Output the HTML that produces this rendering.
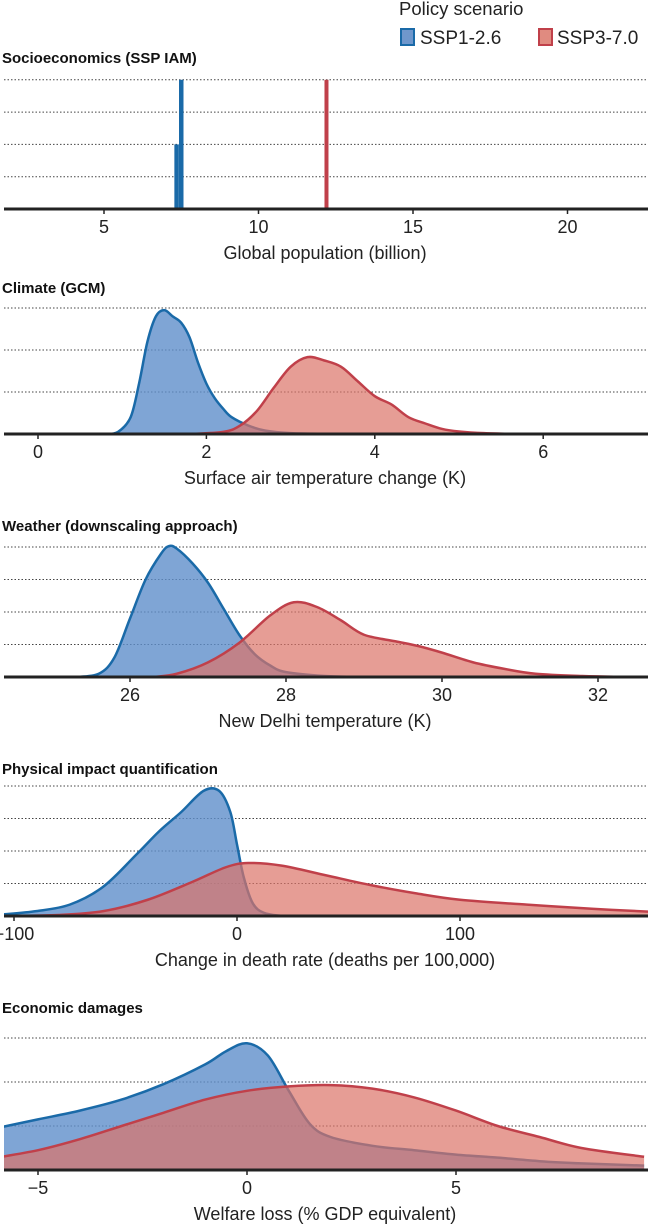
<!DOCTYPE html>
<html><head><meta charset="utf-8">
<style>
body{margin:0;background:#fff;}
svg{display:block;font-family:"Liberation Sans",Arial,sans-serif;}
</style></head>
<body>
<svg id="c" width="651" height="1231" viewBox="0 0 651 1231">
<defs><clipPath id="plotclip"><rect x="4" y="0" width="644" height="1231"/></clipPath></defs>
<g>
<text x="399" y="15" font-size="18.5" fill="#222">Policy scenario</text>
<rect x="401" y="29" width="13" height="16" fill="#6f97cc" stroke="#1a6aa8" stroke-width="2"/>
<text x="420" y="44" font-size="19" fill="#222">SSP1-2.6</text>
<rect x="539" y="29" width="13" height="16" fill="#e08b80" stroke="#c0404a" stroke-width="2"/>
<text x="557" y="44" font-size="19" fill="#222">SSP3-7.0</text>
</g>
</svg>
<script>
// Panel 1 data (population bars, in gridline units)
const popBlueX=[7.35,7.5];
const popBlueH=[2,4];
const popRedX=[12.2];
const popRedH=[4];
const popTicks=[5,10,15,20];
// Panel 2
const climTicks=[0,2,4,6];
const climBlueX=[0.8,0.95,1.1,1.2,1.3,1.4,1.5,1.6,1.7,1.8,1.9,2.0,2.1,2.2,2.3,2.5,2.7,3.0,3.5];
const climBlueY=[0,0.05,0.4,1.2,2.2,2.8,2.95,2.8,2.65,2.3,1.7,1.2,0.85,0.6,0.4,0.2,0.08,0.02,0];
const climRedX=[1.8,2.2,2.4,2.6,2.8,3.0,3.2,3.4,3.6,3.8,4.0,4.2,4.4,4.6,4.8,5.0,5.3,5.7];
const climRedY=[0,0.05,0.2,0.55,1.1,1.6,1.83,1.75,1.6,1.25,0.9,0.7,0.4,0.25,0.12,0.06,0.02,0];
// Panel 3
const wxTicks=[26,28,30,32];
const wxBlueX=[25.3,25.6,25.8,26.0,26.2,26.4,26.5,26.6,26.8,27.0,27.2,27.4,27.6,27.8,28.0,28.5,29];
const wxBlueY=[0,0.1,0.6,1.8,3.0,3.8,4.03,3.95,3.5,2.9,2.1,1.3,0.7,0.35,0.15,0.03,0];
const wxRedX=[26.3,26.6,27.0,27.4,27.8,28.1,28.4,28.7,29.0,29.4,29.7,30.0,30.4,30.8,31.2,31.8,32.4];
const wxRedY=[0,0.1,0.45,1.05,1.9,2.3,2.15,1.75,1.3,1.1,0.95,0.75,0.45,0.25,0.1,0.03,0];
// Panel 4
const impTicks=[-100,0,100];
const impTickLabels=["\u2212100","0","100"];
const impBlueX=[-105,-90,-75,-60,-45,-35,-25,-15,-8,-3,0,3,7,12,20];
const impBlueY=[0.05,0.15,0.35,0.9,1.9,2.6,3.2,3.85,3.85,3.2,2.2,1.2,0.4,0.1,0];
const impRedX=[-105,-80,-60,-40,-20,-5,5,20,40,60,80,100,130,160,186];
const impRedY=[0,0.03,0.15,0.5,1.05,1.5,1.63,1.55,1.25,0.95,0.7,0.5,0.35,0.22,0.13];
// Panel 5
const ecoTicks=[-5,0,5];
const ecoTickLabels=["\u22125","0","5"];
const ecoBlueX=[-6,-5,-4,-3,-2,-1,-0.5,0,0.5,1,1.5,2,3,4,5,6,7,8,9.5];
const ecoBlueY=[0.95,1.15,1.35,1.6,1.95,2.4,2.7,2.88,2.6,1.8,1.05,0.75,0.55,0.45,0.35,0.28,0.2,0.15,0.1];
const ecoRedX=[-6,-5,-4,-3,-2,-1,0,1,2,3,4,5,6,7,8,9.5];
const ecoRedY=[0.28,0.45,0.7,1.0,1.3,1.6,1.8,1.9,1.93,1.85,1.65,1.35,1.0,0.75,0.5,0.3];

const svg=document.getElementById('c');
const NS='http://www.w3.org/2000/svg';
function mk(tag,attrs,parent){const e=document.createElementNS(NS,tag);for(const k in attrs)e.setAttribute(k,attrs[k]);(parent||svg).appendChild(e);return e;}
const L=4,R=648;
function smooth(pts){let d='M'+pts[0][0]+','+pts[0][1];for(let i=0;i<pts.length-1;i++){const p0=pts[Math.max(0,i-1)],p1=pts[i],p2=pts[i+1],p3=pts[Math.min(pts.length-1,i+2)];const c1x=p1[0]+(p2[0]-p0[0])/6,c1y=p1[1]+(p2[1]-p0[1])/6,c2x=p2[0]-(p3[0]-p1[0])/6,c2y=p2[1]-(p3[1]-p1[1])/6;d+=' C'+c1x+','+c1y+' '+c2x+','+c2y+' '+p2[0]+','+p2[1];}return d;}
function panel(cfg){
  const g=mk('g',{});
  
  
  const sx=v=>cfg.x0px+(v-cfg.v0)*cfg.ppu;
  const sy=u=>cfg.base-u*cfg.gsp;
  const t=mk('text',{x:2,y:cfg.titleY,'font-size':15,'font-weight':'bold',fill:'#111'},g);
  t.textContent=cfg.title;
  
  
  for(let i=1;i<=cfg.nGrid;i++){
    const l=mk('line',{x1:L,x2:R,y1:sy(i),y2:sy(i),stroke:'#444','stroke-width':1,'stroke-dasharray':'1.5,2'},g);
    
    
  }
  const pg=mk('g',{'clip-path':'url(#plotclip)'},g);
  
  
  if(cfg.bars){
    cfg.bars.forEach(b=>{
      b.xs.forEach((x,i)=>{
        const r=mk('rect',{x:sx(x)-b.w/2,y:sy(b.hs[i]),width:b.w,height:sy(0)-sy(b.hs[i]),fill:b.color},pg);
        
        
      });
    });
  }
  if(cfg.series){
    cfg.series.forEach(s=>{
      const pts=s.x.map((x,i)=>[sx(x),sy(s.y[i])]);
      const line=smooth(pts);
      const area=line+' L'+pts[pts.length-1][0]+','+sy(0)+' L'+pts[0][0]+','+sy(0)+' Z';
      const a=mk('path',{d:area,fill:s.fill,'fill-opacity':s.op},pg);
      
      
      const p=mk('path',{d:line,fill:'none',stroke:s.stroke,'stroke-width':2.5},pg);
      
      
    });
  }
  const ax=mk('line',{x1:L,x2:R,y1:cfg.base,y2:cfg.base,stroke:'#222','stroke-width':3},g);
  
  
  cfg.ticks.forEach((v,i)=>{
    const tk=mk('line',{x1:sx(v),x2:sx(v),y1:cfg.base,y2:cfg.base+5,stroke:'#222','stroke-width':1.5},g);
    
    
    const tl=mk('text',{x:sx(v),y:cfg.base+24,'font-size':18,fill:'#222','text-anchor':'middle'},g);
    tl.textContent=cfg.tickLabels?cfg.tickLabels[i]:String(v);
    
    
  });
  const at=mk('text',{x:cfg.axisTitleX,y:cfg.base+50,'font-size':18,fill:'#222','text-anchor':'middle'},g);
  at.textContent=cfg.axisTitle;
  
  
}
const BF='#5f8fcb',BS='#1a6aa8',RF='#dc7468',RS='#c0404a';
panel({name:'panel-socioeconomics',title:'Socioeconomics (SSP IAM)',titleY:63,base:209,gsp:32.3,nGrid:4,x0px:104,v0:5,ppu:30.9,ticks:popTicks,axisTitle:'Global population (billion)',axisTitleX:325,
  bars:[{xs:popBlueX,hs:popBlueH,w:4.5,color:'#1a6aa8',name:'bar-ssp126'},{xs:popRedX,hs:popRedH,w:4,color:'#c0404a',name:'bar-ssp370'}]});
panel({name:'panel-climate',title:'Climate (GCM)',titleY:293,base:434,gsp:42,nGrid:3,x0px:38,v0:0,ppu:84.2,ticks:climTicks,axisTitle:'Surface air temperature change (K)',axisTitleX:325,
  series:[{x:climBlueX,y:climBlueY,fill:BF,stroke:BS,op:0.8,name:'density-ssp126'},{x:climRedX,y:climRedY,fill:RF,stroke:RS,op:0.7,name:'density-ssp370'}]});
panel({name:'panel-weather',title:'Weather (downscaling approach)',titleY:531,base:677,gsp:32.5,nGrid:4,x0px:130,v0:26,ppu:78,ticks:wxTicks,axisTitle:'New Delhi temperature (K)',axisTitleX:325,
  series:[{x:wxBlueX,y:wxBlueY,fill:BF,stroke:BS,op:0.8,name:'density-ssp126'},{x:wxRedX,y:wxRedY,fill:RF,stroke:RS,op:0.7,name:'density-ssp370'}]});
panel({name:'panel-impact',title:'Physical impact quantification',titleY:774,base:916,gsp:32.5,nGrid:4,x0px:237,v0:0,ppu:2.23,ticks:impTicks,tickLabels:impTickLabels,axisTitle:'Change in death rate (deaths per 100,000)',axisTitleX:325,
  series:[{x:impBlueX,y:impBlueY,fill:BF,stroke:BS,op:0.8,name:'density-ssp126'},{x:impRedX,y:impRedY,fill:RF,stroke:RS,op:0.7,name:'density-ssp370'}]});
panel({name:'panel-economic',title:'Economic damages',titleY:1013,base:1170,gsp:44,nGrid:3,x0px:247,v0:0,ppu:41.8,ticks:ecoTicks,tickLabels:ecoTickLabels,axisTitle:'Welfare loss (% GDP equivalent)',axisTitleX:325,
  series:[{x:ecoBlueX,y:ecoBlueY,fill:BF,stroke:BS,op:0.8,name:'density-ssp126'},{x:ecoRedX,y:ecoRedY,fill:RF,stroke:RS,op:0.7,name:'density-ssp370'}]});
</script>
</body></html>
